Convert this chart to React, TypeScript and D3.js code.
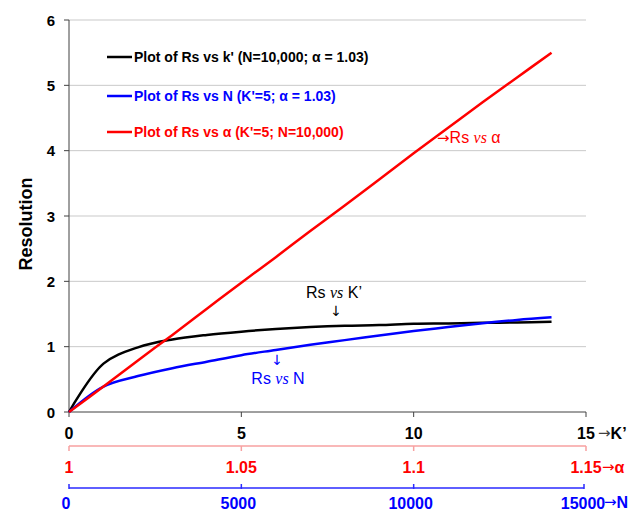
import React from "react";
import * as d3 from "d3";

// ---- data ----
const kPrime = [0, 1, 2, 3, 4, 5, 6, 7, 8, 9, 10, 11, 12, 13, 14];
const rsVsK = [0, 0.74, 0.99, 1.11, 1.18, 1.23, 1.27, 1.3, 1.32, 1.33, 1.35, 1.355, 1.365, 1.37, 1.38];

const nValues = [0, 1000, 2000, 3000, 4000, 5000, 6000, 7000, 8000, 9000, 10000, 11000, 12000, 13000, 14000];
const rsVsN = [0, 0.39, 0.55, 0.67, 0.77, 0.87, 0.95, 1.03, 1.1, 1.17, 1.24, 1.3, 1.36, 1.41, 1.45];

const alphaValues = [1, 1.01, 1.02, 1.03, 1.04, 1.05, 1.06, 1.07, 1.08, 1.09, 1.1, 1.11, 1.12, 1.13, 1.14];
const rsVsAlpha = [0, 0.39, 0.79, 1.18, 1.58, 1.98, 2.37, 2.77, 3.16, 3.56, 3.96, 4.35, 4.74, 5.12, 5.5];

const yTicks = [0, 1, 2, 3, 4, 5, 6];
const kTicks = [0, 5, 10, 15];
const alphaTicks = [1, 1.05, 1.1, 1.15];
const alphaTickLabels = ["1", "1.05", "1.1", "1.15"];
const nTicks = [0, 5000, 10000, 15000];

const legendItems = [
  { label: "Plot of Rs vs k' (N=10,000; α = 1.03)", color: "#000000" },
  { label: "Plot of Rs vs N (K'=5; α = 1.03)", color: "#0000ff" },
  { label: "Plot of Rs vs α (K'=5; N=10,000)", color: "#ff0000" },
];

const W = 633;
const H = 512;
const left = 69;
const right = 586;
const top = 20;
const bottom = 412;

export default function App() {
  const xK = d3.scaleLinear().domain([0, 15]).range([left, right]);
  const xA = d3.scaleLinear().domain([1, 1.15]).range([left, right]);
  const xN = d3.scaleLinear().domain([0, 15000]).range([left, right]);
  const y = d3.scaleLinear().domain([0, 6]).range([bottom, top]);

  const curve = d3.curveCatmullRom.alpha(0.5);
  const lineK = d3
    .line<number>()
    .x((_, i) => xK(kPrime[i]))
    .y((d) => y(d))
    .curve(curve);
  const lineN = d3
    .line<number>()
    .x((_, i) => xN(nValues[i]))
    .y((d) => y(d))
    .curve(curve);
  const lineA = d3
    .line<number>()
    .x((_, i) => xA(alphaValues[i]))
    .y((d) => y(d))
    .curve(curve);

  const font = "'Liberation Sans', Arial, sans-serif";
  const arrowFont = "'DejaVu Sans', sans-serif";
  const serif = "'Liberation Serif', 'Times New Roman', serif";
  const redAxisY = 446;
  const blueAxisY = 488;
  const legendY = [57, 96, 132];

  return (
    <svg width={W} height={H} style={{ position: "absolute", left: 0, top: 0, background: "#fff" }} fontFamily={font}>
      <rect x={0} y={0} width={W} height={H} fill="#ffffff" />
      {/* gridlines */}
      {yTicks.filter((t) => t > 0).map((t) => (
        <line key={"g" + t} x1={left} x2={right} y1={y(t)} y2={y(t)} stroke="#c9c9c9" strokeWidth={1} />
      ))}
      {/* y axis */}
      <line x1={left} x2={left} y1={top} y2={bottom} stroke="#404040" strokeWidth={1} />
      {yTicks.map((t) => (
        <g key={"yt" + t}>
          <line x1={left - 5} x2={left} y1={y(t)} y2={y(t)} stroke="#404040" strokeWidth={1} />
          <text x={55} y={y(t)} textAnchor="end" dominantBaseline="central" fontSize={15} fontWeight="bold" fill="#000">
            {t}
          </text>
        </g>
      ))}
      <text
        transform={`translate(26,224) rotate(-90)`}
        textAnchor="middle"
        dominantBaseline="central"
        fontSize={18}
        fontWeight="bold"
        fill="#000"
      >
        Resolution
      </text>

      {/* K' axis */}
      <line x1={left} x2={right} y1={bottom} y2={bottom} stroke="#404040" strokeWidth={1} />
      {kTicks.map((t) => (
        <g key={"kt" + t}>
          <line x1={xK(t)} x2={xK(t)} y1={bottom} y2={bottom + 5} stroke="#404040" strokeWidth={1} />
          <text x={xK(t)} y={433} textAnchor="middle" dominantBaseline="central" fontSize={16} fontWeight="bold" fill="#000">
            {t}
          </text>
        </g>
      ))}
      <text x={598} y={433} dominantBaseline="central" fontSize={16} fill="#000">
        <tspan fontFamily={arrowFont} fontSize={15} fill="#404040">→</tspan>
        <tspan fontWeight="bold">K’</tspan>
      </text>

      {/* alpha axis */}
      <line x1={left} x2={right} y1={redAxisY} y2={redAxisY} stroke="#f7a1a1" strokeWidth={1.5} />
      {alphaTicks.map((t, i) => (
        <g key={"at" + t}>
          <line x1={xA(t)} x2={xA(t)} y1={redAxisY} y2={redAxisY + 5} stroke="#f7a1a1" strokeWidth={1.5} />
          <text x={xA(t)} y={467} textAnchor="middle" dominantBaseline="central" fontSize={16} fontWeight="bold" fill="#ff0000">
            {alphaTickLabels[i]}
          </text>
        </g>
      ))}
      <text x={602} y={467} dominantBaseline="central" fontSize={16} fill="#ff0000">
        <tspan fontFamily={arrowFont} fontSize={15}>→</tspan>
        <tspan fontWeight="bold">α</tspan>
      </text>

      {/* N axis */}
      <line x1={left} x2={right - 2} y1={blueAxisY} y2={blueAxisY} stroke="#2a2aff" strokeWidth={1.5} />
      {nTicks.map((t) => (
        <g key={"nt" + t}>
          <line x1={Math.min(xN(t), right - 2)} x2={Math.min(xN(t), right - 2)} y1={blueAxisY - 4} y2={blueAxisY + 1} stroke="#2a2aff" strokeWidth={1.5} />
          <text x={xN(t) - 3} y={503} textAnchor="middle" dominantBaseline="central" fontSize={16} fontWeight="bold" fill="#0000ff">
            {t}
          </text>
        </g>
      ))}
      <text x={604} y={502} dominantBaseline="central" fontSize={16} fill="#0000ff">
        <tspan fontFamily={arrowFont} fontSize={15}>→</tspan>
        <tspan fontWeight="bold">N</tspan>
      </text>

      {/* series */}
      <path d={lineK(rsVsK) || ""} fill="none" stroke="#000000" strokeWidth={2.5} />
      <path d={lineN(rsVsN) || ""} fill="none" stroke="#0000ff" strokeWidth={2.5} />
      <path d={lineA(rsVsAlpha) || ""} fill="none" stroke="#ff0000" strokeWidth={2.5} />

      {/* annotations */}
      <text x={334} y={298} textAnchor="middle" fontSize={16} fill="#000">
        Rs <tspan fontFamily={serif} fontStyle="italic">vs</tspan> K’
      </text>
      <text x={336} y={316} textAnchor="middle" fontFamily={arrowFont} fontSize={14} fill="#000">↓</text>
      <text x={277} y={365} textAnchor="middle" fontFamily={arrowFont} fontSize={14} fill="#0000ff">↓</text>
      <text x={278} y={384} textAnchor="middle" fontSize={16} fill="#0000ff">
        Rs <tspan fontFamily={serif} fontStyle="italic">vs</tspan> N
      </text>
      <text x={437} y={143} fontSize={16} fill="#ff0000">
        <tspan fontFamily={arrowFont} fontSize={15}>→</tspan>Rs <tspan fontFamily={serif} fontStyle="italic">vs</tspan> α
      </text>

      {/* legend */}
      {legendItems.map((it, i) => (
        <g key={"lg" + i}>
          <line x1={107} x2={132} y1={legendY[i]} y2={legendY[i]} stroke={it.color} strokeWidth={2.5} />
          <text x={134} y={legendY[i]} dominantBaseline="central" fontSize={14} fontWeight="bold" fill={it.color}>
            {it.label}
          </text>
        </g>
      ))}
    </svg>
  );
}
